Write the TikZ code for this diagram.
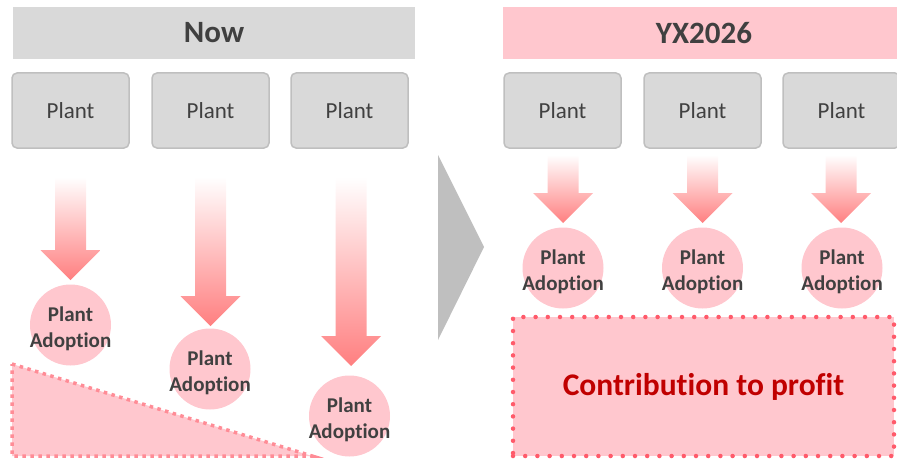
\documentclass[tikz,border=0pt]{standalone}
\usepackage{fontspec}
\setmainfont{Carlito}[Ligatures=CommonOff]
\definecolor{hdrgray}{HTML}{D9D9D9}
\definecolor{edgegray}{HTML}{BFBFBF}
\definecolor{txtgray}{HTML}{404040}
\definecolor{softpink}{HTML}{FFC7CE}
\definecolor{arrowred}{HTML}{FF7F80}
\definecolor{dotred}{HTML}{FF5A6A}
\definecolor{dotpink}{HTML}{FF8C96}
\definecolor{darkred}{HTML}{C00000}
\definecolor{chevgray}{HTML}{BFBFBF}
% block arrow fading from white: centre x, top y, tip y
\newcommand{\fadearrow}[3]{%
  \shade[top color=white,bottom color=arrowred]
    (#1-15.5,#2) -- (#1+15.5,#2) -- (#1+15.5,#3-30) -- (#1+30,#3-30)
    -- (#1,#3) -- (#1-30,#3-30) -- (#1-15.5,#3-30) -- cycle;}
\begin{document}
\begin{tikzpicture}[x=1pt,y=-1pt,
  header/.style={fill=#1,minimum width=402pt,minimum height=52pt,
    inner sep=0pt,text=txtgray,font=\fontsize{31}{36}\selectfont\bfseries},
  plantbox/.style={draw=edgegray,line width=1.5pt,fill=hdrgray,rounded corners=5pt,
    minimum width=117pt,minimum height=75pt,inner sep=0pt,text=txtgray,
    font=\fontsize{23}{27}\selectfont},
  adopttext/.style={text=txtgray,align=center,inner sep=0pt,yshift=-3.5pt,
    font=\fontsize{21}{25.6}\selectfont\bfseries},
  adopt/.style={circle,fill=softpink,minimum size=81pt,inner sep=0pt,
    label={[adopttext]center:Plant\\Adoption}}]
\useasboundingbox (0,0) rectangle (897,460);

% headers
\node[header=hdrgray] (now) at (214,33) {Now};
\node[header=softpink] (future) at (704,33) {YX2026};

% current plants and their adoption
\node[plantbox] (p1) at (70.5,110.5) {Plant};
\node[plantbox] (p2) at (210.5,110.5) {Plant};
\node[plantbox] (p3) at (349.5,110.5) {Plant};
\fadearrow{70.5}{177}{280}
\fadearrow{210.5}{177}{326}
\fadearrow{351}{177}{366}
\node[adopt] (a1) at (70.5,325) {};
\node[adopt] (a2) at (210,369) {};
\node[adopt] (a3) at (349.5,416) {};

% shrinking contribution
\filldraw[fill=softpink,draw=dotpink,line width=3.5pt,dash pattern=on 3.5pt off 4.5pt]
  (12,364) -- (312,456) -- (12,456) -- cycle;

% transition chevron
\fill[chevgray] (438,155) -- (484,247) -- (438,340) -- cycle;

% future plants and their adoption
\node[plantbox] (q1) at (562.5,110.5) {Plant};
\node[plantbox] (q2) at (702.5,110.5) {Plant};
\node[plantbox] (q3) at (841.5,110.5) {Plant};
\fadearrow{563}{155}{223}
\fadearrow{702.5}{155}{223}
\fadearrow{841}{155}{223}
\node[adopt] (b1) at (563,268) {};
\node[adopt] (b2) at (702.5,268) {};
\node[adopt] (b3) at (842,268) {};

% contribution box
\node[fill=softpink,draw=dotred,line width=4.5pt,line cap=round,
  dash pattern=on 0pt off 12.2pt,minimum width=381pt,minimum height=139pt,
  inner sep=0pt,text=darkred,font=\fontsize{31.5}{36}\selectfont\bfseries]
  (profit) at (703.5,386.5) {Contribution to profit};
\end{tikzpicture}
\end{document}
